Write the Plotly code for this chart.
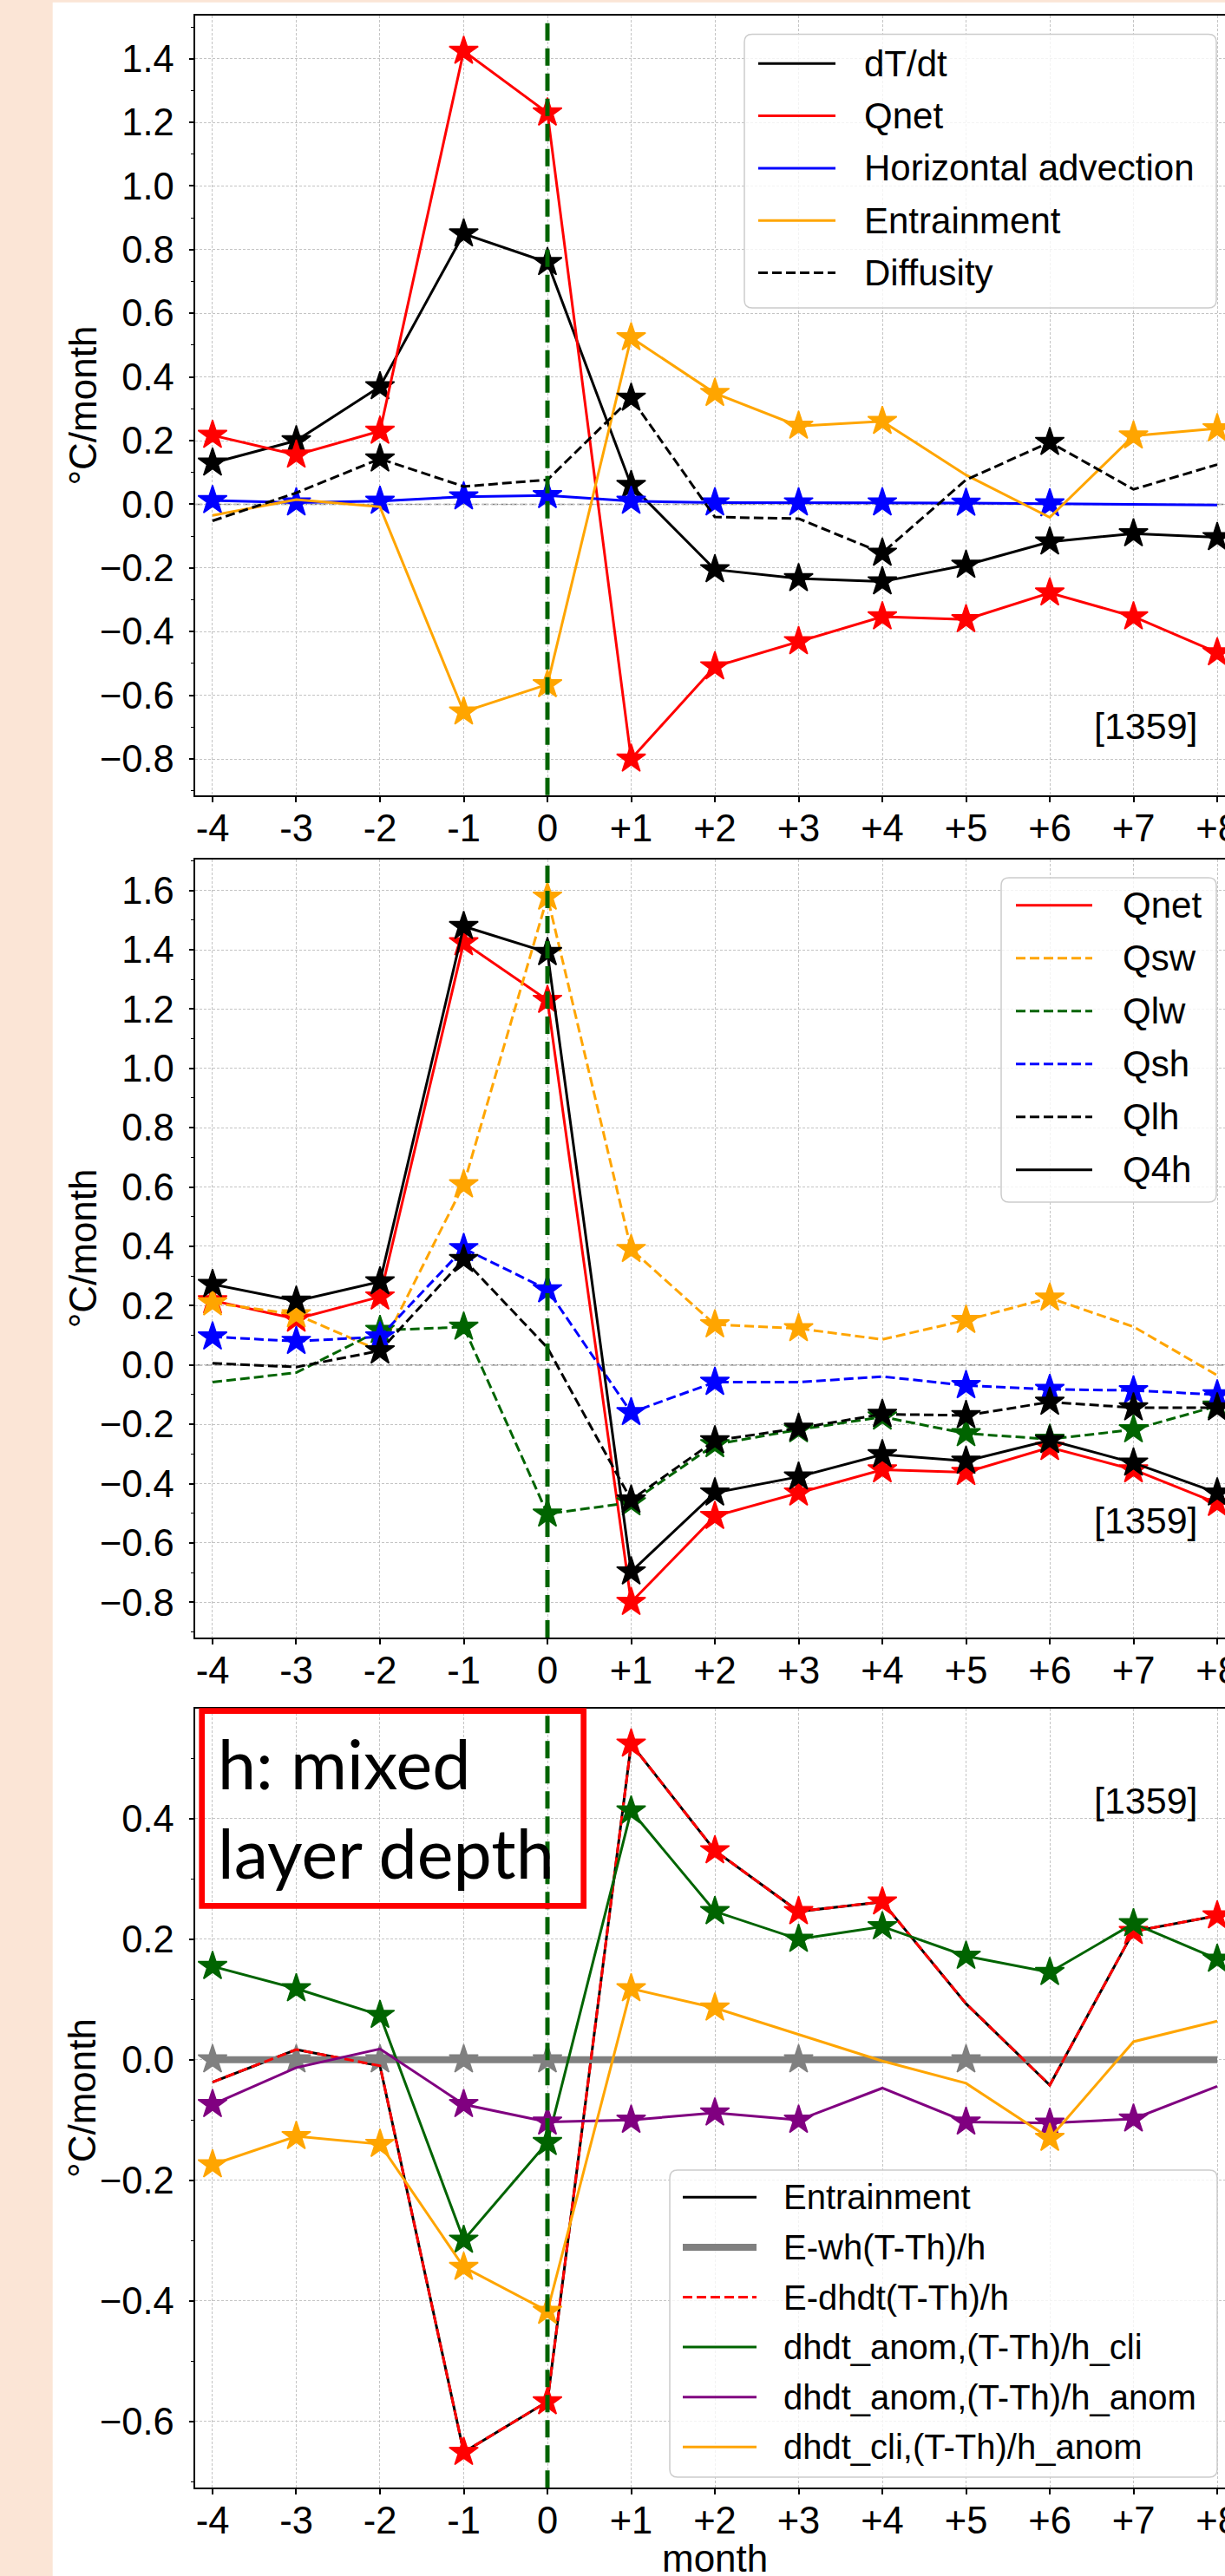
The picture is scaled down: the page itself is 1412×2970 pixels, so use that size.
import plotly.graph_objects as go

W, H = 1412, 2970

# ---------------- data ----------------
months = [-4, -3, -2, -1, 0, 1, 2, 3, 4, 5, 6, 7, 8]
month_labels = ["-4", "-3", "-2", "-1", "0", "+1", "+2", "+3", "+4", "+5", "+6", "+7", "+8"]
count_label = "[1359]"

# panel 1: heat budget terms
dTdt = [0.13, 0.20, 0.37, 0.85, 0.76, 0.06, -0.205, -0.233, -0.243, -0.191, -0.118, -0.092, -0.104]
qnet = [0.217, 0.155, 0.23, 1.424, 1.23, -0.80, -0.51, -0.431, -0.353, -0.362, -0.278, -0.353, -0.466]
hadv = [0.012, 0.005, 0.01, 0.024, 0.028, 0.01, 0.005, 0.005, 0.005, 0.004, 0.002, 0.0, -0.002]
entrain = [-0.035, 0.015, -0.008, -0.652, -0.566, 0.524, 0.349, 0.246, 0.261, 0.092, -0.041, 0.215, 0.238]
diffus = [-0.052, 0.036, 0.143, 0.056, 0.077, 0.334, -0.04, -0.045, -0.153, 0.077, 0.195, 0.047, 0.125]
sig_dTdt = [1, 1, 1, 1, 1, 1, 1, 1, 1, 1, 1, 1, 1]
sig_qnet = [1, 1, 1, 1, 1, 1, 1, 1, 1, 1, 1, 1, 1]
sig_hadv = [1, 1, 1, 1, 1, 1, 1, 1, 1, 1, 1, 0, 0]
sig_entrain = [0, 0, 0, 1, 1, 1, 1, 1, 1, 0, 0, 1, 1]
sig_diffus = [0, 0, 1, 0, 0, 1, 0, 0, 1, 0, 1, 0, 0]

# panel 2: surface heat flux components
qsw = [0.21, 0.17, 0.048, 0.608, 1.578, 0.39, 0.136, 0.123, 0.086, 0.151, 0.226, 0.129, -0.035]
qlw = [-0.058, -0.026, 0.117, 0.128, -0.502, -0.464, -0.268, -0.218, -0.175, -0.231, -0.25, -0.218, -0.138]
qsh = [0.095, 0.08, 0.095, 0.393, 0.254, -0.16, -0.058, -0.058, -0.039, -0.069, -0.082, -0.086, -0.1]
qlh = [0.006, -0.007, 0.048, 0.356, 0.058, -0.455, -0.255, -0.213, -0.166, -0.17, -0.125, -0.144, -0.144]
q4h = [0.272, 0.216, 0.281, 1.479, 1.391, -0.697, -0.431, -0.377, -0.302, -0.324, -0.254, -0.33, -0.431]
sig_qsw = [1, 1, 0, 1, 1, 1, 1, 1, 0, 1, 1, 0, 0]
sig_qlw = [0, 0, 1, 1, 1, 1, 1, 1, 1, 1, 1, 1, 1]
sig_qsh = [1, 1, 1, 1, 1, 1, 1, 0, 0, 1, 1, 1, 1]
sig_qlh = [0, 0, 1, 1, 0, 1, 1, 1, 1, 1, 1, 1, 1]
sig_q4h = [1, 1, 1, 1, 1, 1, 1, 1, 1, 1, 1, 1, 1]

# panel 3: entrainment decomposition
entrain3 = [-0.037, 0.017, -0.01, -0.651, -0.567, 0.524, 0.347, 0.246, 0.262, 0.093, -0.042, 0.213, 0.239]
e_wh = [0.0, 0.0, 0.0, 0.0, 0.0, 0.0, 0.0, 0.0, 0.0, 0.0, 0.0, 0.0, 0.0]
e_dhdt = [-0.037, 0.017, -0.01, -0.651, -0.567, 0.524, 0.347, 0.246, 0.262, 0.093, -0.042, 0.213, 0.239]
anom_hcli = [0.155, 0.118, 0.074, -0.299, -0.137, 0.413, 0.246, 0.2, 0.221, 0.172, 0.145, 0.226, 0.167]
anom_hanom = [-0.074, -0.013, 0.018, -0.074, -0.103, -0.1, -0.088, -0.1, -0.047, -0.103, -0.105, -0.098, -0.044]
cli_hanom = [-0.174, -0.127, -0.14, -0.344, -0.417, 0.118, 0.086, 0.042, -0.002, -0.039, -0.13, 0.03, 0.064]
sig_entrain3 = [0, 0, 0, 0, 0, 0, 0, 0, 0, 0, 0, 0, 0]
sig_e_wh = [1, 1, 1, 1, 1, 0, 0, 1, 0, 1, 0, 0, 0]
sig_e_dhdt = [0, 0, 0, 1, 1, 1, 1, 1, 1, 0, 0, 1, 1]
sig_anom_hcli = [1, 1, 1, 1, 1, 1, 1, 1, 1, 1, 1, 1, 1]
sig_anom_hanom = [1, 0, 0, 1, 1, 1, 1, 1, 0, 1, 1, 1, 0]
sig_cli_hanom = [1, 1, 1, 1, 1, 1, 1, 0, 0, 0, 1, 0, 0]

# ---------------- style / layout ----------------
FONT = "Liberation Sans, Arial, sans-serif"
PEACH = "#FBE5D6"
GRID = "#c4c4c4"
DASH = "11px,5px"
TICK_FS = 43.5

panels = [
    dict(top=18.3, bot=916.7, yr=[-0.9136, 1.5346], label_y=-0.6965, zero=True,
         legend=dict(box=(858, 39.5, 1402, 355), y0=73.3, dy=60.3, lx=(874, 963), tx=996, fs=42),
         series=[("dT/dt", dTdt, sig_dTdt, "black", "solid", 3),
                 ("Qnet", qnet, sig_qnet, "red", "solid", 3),
                 ("Horizontal advection", hadv, sig_hadv, "blue", "solid", 3),
                 ("Entrainment", entrain, sig_entrain, "orange", "solid", 3),
                 ("Diffusity", diffus, sig_diffus, "black", DASH, 3)]),
    dict(top=990.7, bot=1888, yr=[-0.919, 1.705], label_y=-0.525, zero=True,
         legend=dict(box=(1154, 1012, 1402, 1386), y0=1043.8, dy=61, lx=(1171, 1259), tx=1294, fs=42),
         series=[("Qnet", qnet, sig_qnet, "red", "solid", 3),
                 ("Qsw", qsw, sig_qsw, "orange", DASH, 3),
                 ("Qlw", qlw, sig_qlw, "darkgreen", DASH, 3),
                 ("Qsh", qsh, sig_qsh, "blue", DASH, 3),
                 ("Qlh", qlh, sig_qlh, "black", DASH, 3),
                 ("Q4h", q4h, sig_q4h, "black", "solid", 3)]),
    dict(top=1969.6, bot=2868.3, yr=[-0.71, 0.583], label_y=0.430, zero=False,
         legend=dict(box=(772, 2502, 1403, 2856), y0=2533.3, dy=57.6, lx=(787, 872), tx=903, fs=40),
         series=[("Entrainment", entrain3, sig_entrain3, "black", "solid", 3),
                 ("E-wh(T-Th)/h", e_wh, sig_e_wh, "gray", "solid", 8),
                 ("E-dhdt(T-Th)/h", e_dhdt, sig_e_dhdt, "red", DASH, 3),
                 ("dhdt_anom,(T-Th)/h_cli", anom_hcli, sig_anom_hcli, "darkgreen", "solid", 3),
                 ("dhdt_anom,(T-Th)/h_anom", anom_hanom, sig_anom_hanom, "purple", "solid", 3),
                 ("dhdt_cli,(T-Th)/h_anom", cli_hanom, sig_cli_hanom, "orange", "solid", 3)]),
]

PLOT_L = 225.3
XR = [-4.204, 8.093]


def X(px):
    return px / W


def Y(py):
    return 1 - py / H


fig = go.Figure()
shapes = []
annotations = []
layout_axes = {}

for i, p in enumerate(panels, start=1):
    xa = "x" if i == 1 else f"x{i}"
    ya = "y" if i == 1 else f"y{i}"
    for name, vals, sig, color, dash, lw in p["series"]:
        fig.add_trace(go.Scatter(x=months, y=vals, mode="lines", name=name,
                                 line=dict(color=color, width=lw, dash=dash),
                                 showlegend=False, hoverinfo="skip", xaxis=xa, yaxis=ya))
        sx = [m for m, s in zip(months, sig) if s]
        sy = [v for v, s in zip(vals, sig) if s]
        if sx:
            fig.add_trace(go.Scatter(x=sx, y=sy, mode="markers", name=name,
                                     marker=dict(symbol="star", size=25, color=color,
                                                 line=dict(width=1.6, color=color)),
                                     showlegend=False, hoverinfo="skip", xaxis=xa, yaxis=ya))

    layout_axes["xaxis" if i == 1 else f"xaxis{i}"] = dict(
        domain=[PLOT_L / W, 1], anchor=ya, range=XR,
        tickmode="array", tickvals=months, ticktext=month_labels,
        ticks="outside", ticklen=6, tickwidth=1.6, tickcolor="black",
        tickfont=dict(family=FONT, size=TICK_FS, color="black"),
        ticklabeloverflow="allow", ticklabelstandoff=-7,
        showgrid=True, gridcolor=GRID, gridwidth=1, griddash="3px,2px",
        zeroline=False, showline=True, linecolor="black", linewidth=1.6, mirror=True,
        automargin=False,
    )
    layout_axes["yaxis" if i == 1 else f"yaxis{i}"] = dict(
        domain=[Y(p["bot"]), Y(p["top"])], anchor=xa, range=p["yr"],
        tickmode="linear", tick0=0, dtick=0.2, tickformat=".1f",
        ticks="outside", ticklen=6, tickwidth=1.6, tickcolor="black",
        tickfont=dict(family=FONT, size=TICK_FS, color="black"),
        ticklabelstandoff=8,
        minor=dict(tick0=0, dtick=0.1, ticks="outside", ticklen=3.5, tickwidth=1.2,
                   tickcolor="black", showgrid=False),
        showgrid=True, gridcolor=GRID, gridwidth=1, griddash="3px,2px",
        zeroline=False, showline=True, linecolor="black", linewidth=1.6, mirror=False,
        automargin=False,
    )

    # y-axis title
    annotations.append(dict(x=X(95.0), y=Y((p["top"] + p["bot"]) / 2), xref="paper", yref="paper",
                            text="°C/month", textangle=-90, showarrow=False,
                            xanchor="center", yanchor="middle",
                            font=dict(family=FONT, size=44, color="black")))

    # zero line and event-month marker
    if p["zero"]:
        shapes.append(dict(type="line", xref=f"{xa} domain", yref=ya, x0=0, x1=1, y0=0, y1=0,
                           line=dict(color="gray", width=1.5, dash="8px,3px"), layer="below"))
    shapes.append(dict(type="line", xref=xa, yref=f"{ya} domain", x0=0, x1=0, y0=0, y1=1,
                       line=dict(color="darkgreen", width=5, dash="20px,9px"), layer="above"))

    # sample count label
    annotations.append(dict(x=7.79, y=p["label_y"], xref=xa, yref=ya, text=count_label,
                            showarrow=False, xanchor="right", yanchor="middle",
                            font=dict(family=FONT, size=43, color="black")))

    # legend box
    lg = p["legend"]
    x0, y0, x1, y1 = lg["box"]
    r = 9
    path = (f"M {X(x0 + r)},{Y(y0)} L {X(x1 - r)},{Y(y0)} Q {X(x1)},{Y(y0)} {X(x1)},{Y(y0 + r)} "
            f"L {X(x1)},{Y(y1 - r)} Q {X(x1)},{Y(y1)} {X(x1 - r)},{Y(y1)} "
            f"L {X(x0 + r)},{Y(y1)} Q {X(x0)},{Y(y1)} {X(x0)},{Y(y1 - r)} "
            f"L {X(x0)},{Y(y0 + r)} Q {X(x0)},{Y(y0)} {X(x0 + r)},{Y(y0)} Z")
    shapes.append(dict(type="path", xref="paper", yref="paper", path=path,
                       fillcolor="rgba(255,255,255,0.8)", line=dict(color="#cccccc", width=1.5),
                       layer="above"))
    for k, (name, vals, sig, color, dash, lw) in enumerate(p["series"]):
        yy = lg["y0"] + k * lg["dy"]
        shapes.append(dict(type="line", xref="paper", yref="paper",
                           x0=X(lg["lx"][0]), x1=X(lg["lx"][1]), y0=Y(yy), y1=Y(yy),
                           line=dict(color=color, width=lw, dash=dash), layer="above"))
        annotations.append(dict(x=X(lg["tx"] - 2), y=Y(yy), xref="paper", yref="paper", text=name,
                                showarrow=False, xanchor="left", yanchor="middle",
                                font=dict(family=FONT, size=lg["fs"], color="black")))

# x-axis title of the bottom panel
annotations.append(dict(x=X(823.6), y=Y(2975.5), xref="paper", yref="paper", text="month",
                        showarrow=False, xanchor="center", yanchor="bottom", borderpad=0,
                        font=dict(family=FONT, size=44, color="black")))

# red annotation box in panel 3
shapes.append(dict(type="rect", xref="paper", yref="paper", x0=X(232.7), x1=X(672.7),
                   y0=Y(1972.7), y1=Y(2197.3), line=dict(color="red", width=6.7),
                   fillcolor="rgba(0,0,0,0)", layer="above"))
annotations.append(dict(x=X(249.0), y=Y(1982.5), xref="paper", yref="paper",
                        text="h: mixed<br>layer depth", showarrow=False, align="left",
                        xanchor="left", yanchor="top",
                        font=dict(family="Lato, Calibri, sans-serif", size=79, color="black")))

# background decoration
shapes.insert(0, dict(type="rect", xref="paper", yref="paper", x0=0, x1=X(60.7), y0=0, y1=1,
                      fillcolor=PEACH, line=dict(width=0), layer="below"))
shapes.insert(0, dict(type="rect", xref="paper", yref="paper", x0=0, x1=1, y0=Y(2.7), y1=1,
                      fillcolor=PEACH, line=dict(width=0), layer="below"))

fig.update_layout(
    width=W, height=H, autosize=False,
    margin=dict(l=0, r=0, t=0, b=0, pad=0),
    paper_bgcolor="white", plot_bgcolor="rgba(0,0,0,0)",
    showlegend=False,
    font=dict(family=FONT, size=42, color="black"),
    shapes=shapes, annotations=annotations,
    **layout_axes,
)

fig.write_html("out.html", config={"displayModeBar": False},
               post_script="document.body.style.margin='0px';")
